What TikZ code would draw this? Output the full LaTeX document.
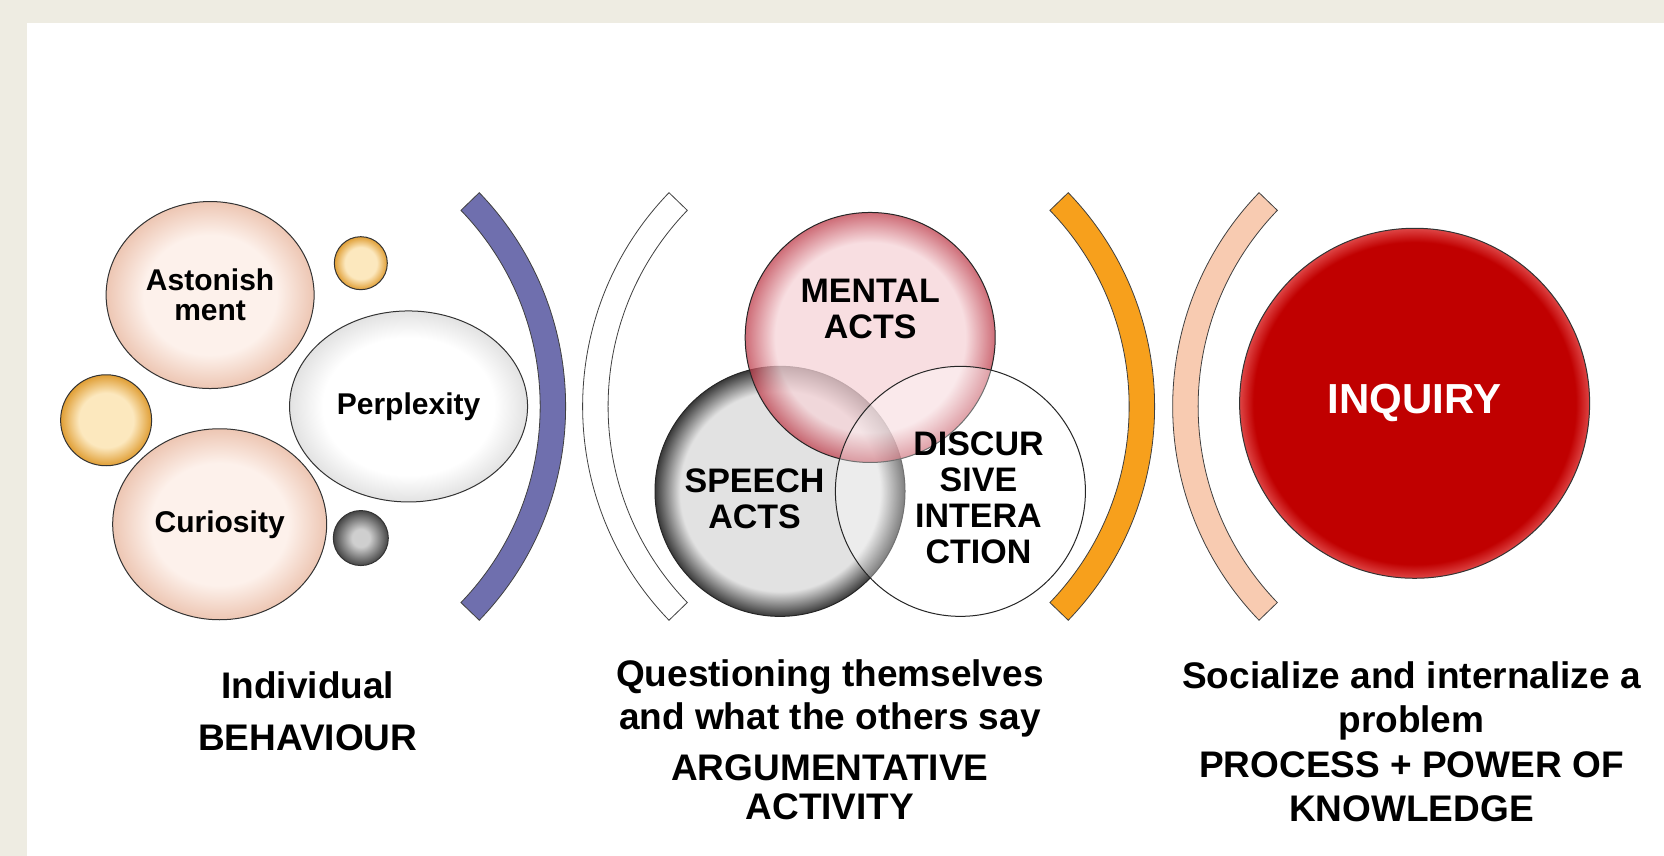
\documentclass[tikz,border=0pt]{standalone}
\usepackage{fontspec}
\setmainfont{Liberation Sans}
\usetikzlibrary{shapes.geometric,calc}

\definecolor{pagebg}{HTML}{EEECE2}
\definecolor{peachin}{HTML}{FDF1EB}
\definecolor{peachrim}{HTML}{EDC6B3}
\definecolor{goldin}{HTML}{FCE8BE}
\definecolor{goldrim}{HTML}{E09E34}
\definecolor{grayin}{HTML}{CFCFCF}
\definecolor{grayrim}{HTML}{454545}
\definecolor{pinkin}{HTML}{F6D4D8}
\definecolor{pinkrim}{HTML}{BE3C4A}
\definecolor{speechin}{HTML}{E2E2E2}
\definecolor{speechrim}{HTML}{3A3A3A}
\definecolor{whitein}{HTML}{FFFFFF}
\definecolor{whiterim}{HTML}{E2E2E2}
\definecolor{inquiryred}{HTML}{C00000}
\definecolor{inquiryrim}{HTML}{DE4545}
\definecolor{arcblue}{HTML}{6F6FAE}
\definecolor{arcorange}{HTML}{F7A01C}
\definecolor{arcpeach}{HTML}{F8CBB1}

% radial shadings: flat inside, darker rim from #4 to the edge
\newcommand{\rimshading}[4]{%
  \pgfdeclareradialshading{#1}{\pgfpoint{0bp}{0bp}}{color(0bp)=(#2); color(#4)=(#2); color(25bp)=(#3); color(50bp)=(#3)}}
\rimshading{peachball}{peachin}{peachrim}{16bp}
\rimshading{goldball}{goldin}{goldrim}{15bp}
\rimshading{grayball}{grayin}{grayrim}{8bp}
\rimshading{pinkball}{pinkin}{pinkrim}{19bp}
\rimshading{speechball}{speechin}{speechrim}{20bp}
\rimshading{whiteball}{whitein}{whiterim}{18bp}
\rimshading{redball}{inquiryred}{inquiryrim}{23bp}

\begin{document}
\begin{tikzpicture}[x=1.0612pt, y=-1.0612pt,
    every node/.style={align=center, font=\bfseries},
    bubble/.style={ellipse, draw=black!80, line width=1pt, inner sep=0pt},
    ball/.style={circle, draw=black!80, line width=1pt, inner sep=0pt},
    venn/.style={circle, draw=black!85, line width=1pt, minimum size=250pt, inner sep=0pt},
    vennlabel/.style={font=\bfseries\fontsize{34}{36}\selectfont},
    bracket/.style={draw=black!75, line width=0.8pt},
    caption/.style={font=\bfseries\fontsize{37}{42.5}\selectfont},
    ]
% page
\useasboundingbox (0,0) rectangle (1568,806.6);
\fill[pagebg] (0,0) rectangle (1568,806.6);
\fill[white] (25,22) rectangle (1568,806.6);

% individual behaviour
\node[bubble, shade, shading=peachball, minimum width=208pt, minimum height=187pt,
      font=\bfseries\fontsize{30}{30}\selectfont] (astonish) at (198,278) {Astonish\\ment};
\node[ball, shade, shading=goldball, minimum size=53pt] (goldA) at (340,248) {};
\node[bubble, shade, shading=whiteball, minimum width=238pt, minimum height=191pt,
      font=\bfseries\fontsize{30}{32}\selectfont] (perplex) at (385,383) {Perplexity};
\node[ball, shade, shading=goldball, minimum size=91pt] (goldB) at (100,396) {};
\node[bubble, shade, shading=peachball, minimum width=214pt, minimum height=191pt,
      font=\bfseries\fontsize{30}{32}\selectfont] (curious) at (207,494) {Curiosity};
\node[ball, shade, shading=grayball, minimum size=55pt] (grayC) at (340,507) {};

% brackets
\coordinate (blueC) at (243,383);
\coordinate (whiteC) at (839,383);
\coordinate (orangeC) at (798,383);
\coordinate (peachC) at (1395,383);
\draw[bracket, fill=arcblue] ($(blueC)+(-44:290)$) arc[start angle=-44, end angle=44, radius=290]
    -- ($(blueC)+(44:266)$) arc[start angle=44, end angle=-44, radius=266] -- cycle;
\draw[bracket, fill=white] ($(whiteC)+(136:290)$) arc[start angle=136, end angle=224, radius=290]
    -- ($(whiteC)+(224:266)$) arc[start angle=224, end angle=136, radius=266] -- cycle;
\draw[bracket, fill=arcorange] ($(orangeC)+(-44:290)$) arc[start angle=-44, end angle=44, radius=290]
    -- ($(orangeC)+(44:266)$) arc[start angle=44, end angle=-44, radius=266] -- cycle;
\draw[bracket, fill=arcpeach] ($(peachC)+(136:290)$) arc[start angle=136, end angle=224, radius=290]
    -- ($(peachC)+(224:266)$) arc[start angle=224, end angle=136, radius=266] -- cycle;

% argumentative activity
\node[venn, shade, shading=speechball] (speech) at (735,463) {};
\node[venn, shade, shading=pinkball, fill opacity=0.75] (mental) at (820,318) {};
\node[venn, fill=white, fill opacity=0.35] (discur) at (905,463) {};
\node[vennlabel] (mentalText) at (820,291) {MENTAL\\ACTS};
\node[vennlabel] (speechText) at (711,470) {SPEECH\\ACTS};
\node[vennlabel] (discurText) at (922,469) {DISCUR\\SIVE\\INTERA\\CTION};

% inquiry
\node[ball, shade, shading=redball, minimum size=350pt, text=white,
      font=\bfseries\fontsize{42}{44}\selectfont] (inquiry) at (1333,380) {INQUIRY};

% captions
\node[caption] (behaviour) at (290,670) {Individual\\[9pt]BEHAVIOUR};
\node[caption] (question) at (782,658) {Questioning themselves\\and what the others say};
\node[caption, font=\bfseries\fontsize{37}{38.5}\selectfont] (argument) at (782,742) {ARGUMENTATIVE\\ACTIVITY};
\node[caption, font=\bfseries\fontsize{37}{44.5}\selectfont] (social) at (1330,699) {Socialize and internalize a\\problem\\PROCESS + POWER OF\\KNOWLEDGE};
\end{tikzpicture}
\end{document}
